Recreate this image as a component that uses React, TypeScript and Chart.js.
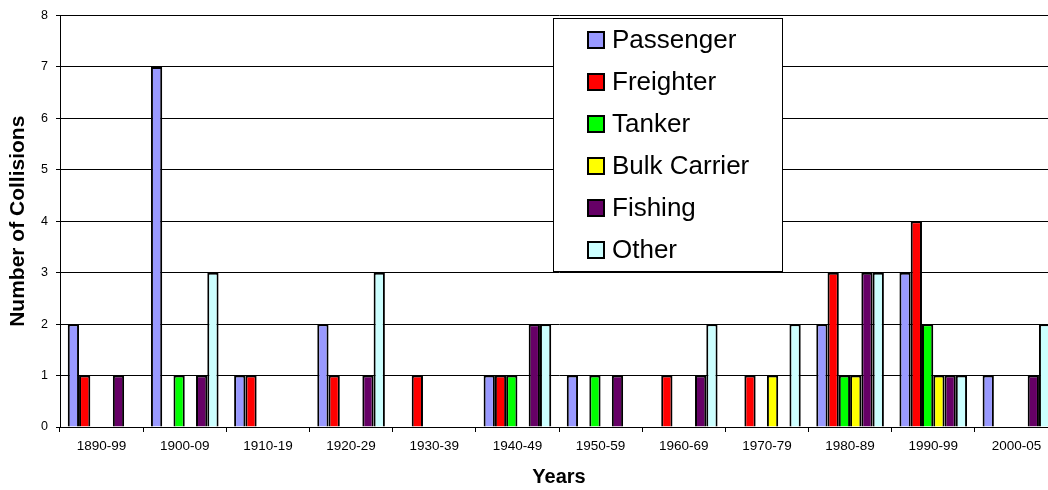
import React, { useEffect, useRef } from "react";
import { Chart, registerables } from "chart.js";

Chart.register(...registerables);

const categories = ["1890-99", "1900-09", "1910-19", "1920-29", "1930-39", "1940-49", "1950-59", "1960-69", "1970-79", "1980-89", "1990-99", "2000-05"];
const passenger = [2, 7, 1, 2, 0, 1, 1, 0, 0, 2, 3, 1];
const freighter = [1, 0, 1, 1, 1, 1, 0, 1, 1, 3, 4, 0];
const tanker = [0, 1, 0, 0, 0, 1, 1, 0, 0, 1, 2, 0];
const bulkCarrier = [0, 0, 0, 0, 0, 0, 0, 0, 1, 1, 1, 0];
const fishing = [1, 1, 0, 1, 0, 2, 1, 1, 0, 3, 1, 1];
const other = [0, 3, 0, 3, 0, 2, 0, 2, 2, 3, 1, 2];
const yTicks = [0, 1, 2, 3, 4, 5, 6, 7, 8];

const seriesNames = ["Passenger", "Freighter", "Tanker", "Bulk Carrier", "Fishing", "Other"];
const seriesValues = [passenger, freighter, tanker, bulkCarrier, fishing, other];
const seriesColors = ["#9999FF", "#FF0000", "#00FF00", "#FFFF00", "#660066", "#CCFFFF"];

const FONT = "'Liberation Sans', Arial, sans-serif";

const boxLegend = {
  id: "boxLegend",
  afterDraw(chart: any) {
    const ctx = chart.ctx;
    ctx.save();
    const bx = 553.5, by = 18.5, bw = 229, bh = 253;
    ctx.fillStyle = "#FFFFFF";
    ctx.fillRect(bx, by, bw, bh);
    ctx.strokeStyle = "#000000";
    ctx.lineWidth = 1;
    ctx.strokeRect(bx, by, bw, bh);
    ctx.font = `26px ${FONT}`;
    ctx.textBaseline = "middle";
    ctx.textAlign = "left";
    chart.data.datasets.forEach((ds: any, i: number) => {
      const cy = 40 + i * 42;
      ctx.fillStyle = ds.backgroundColor;
      ctx.fillRect(588, cy - 8, 16, 16);
      ctx.lineWidth = 2;
      ctx.strokeStyle = "#000";
      ctx.strokeRect(588, cy - 8, 16, 16);
      ctx.fillStyle = "#000";
      ctx.fillText(ds.label, 612, cy + 1);
    });
    ctx.restore();
  },
};

export default function App() {
  const ref = useRef<HTMLCanvasElement | null>(null);
  useEffect(() => {
    if (!ref.current) return;
    const chart = new Chart(ref.current, {
      type: "bar",
      data: {
        labels: categories,
        datasets: seriesNames.map((name, i) => ({
          label: name,
          data: seriesValues[i],
          backgroundColor: seriesColors[i],
          borderColor: "#000000",
          borderWidth: 2,
          borderSkipped: "bottom" as const,
          categoryPercentage: 0.813,
          barPercentage: 1,
        })),
      },
      options: {
        responsive: false,
        animation: false,
        layout: { padding: { top: 14, left: 0, right: 0, bottom: 0 } },
        plugins: {
          legend: { display: false },
          tooltip: { enabled: false },
        },
        scales: {
          x: {
            grid: {
              display: true,
              drawOnChartArea: false,
              drawTicks: true,
              tickLength: 5,
              color: "#000",
              offset: true,
            },
            border: { display: true, color: "#000", width: 1 },
            ticks: {
              color: "#000",
              font: { family: FONT, size: 13.5 },
              padding: 6,
              maxRotation: 0,
              autoSkip: false,
            },
            title: {
              display: true,
              text: "Years",
              color: "#000",
              font: { family: FONT, size: 20, weight: "bold" },
              padding: { top: 0, bottom: 0.5 },
            },
            afterFit(scale: any) {
              scale.height = 63;
            },
          },
          y: {
            min: 0,
            max: 8,
            afterBuildTicks(scale: any) {
              scale.ticks = yTicks.map((v) => ({ value: v }));
            },
            grid: {
              color: "#000",
              lineWidth: 1,
              tickLength: 4,
            },
            border: { display: true, color: "#000", width: 1 },
            ticks: {
              color: "#000",
              font: { family: FONT, size: 12.5 },
              padding: 8,
            },
            title: {
              display: true,
              text: "Number of Collisions",
              color: "#000",
              font: { family: FONT, size: 21, weight: "bold" },
              padding: { top: 6, bottom: 0 },
            },
            afterFit(scale: any) {
              scale.width = 60;
            },
          },
        },
      },
      plugins: [boxLegend],
    });
    return () => chart.destroy();
  }, []);

  return (
    <div style={{ position: "fixed", left: 0, top: 0, width: 1048, height: 490, overflow: "hidden", background: "#fff" }}>
      <canvas ref={ref} width={1058} height={490} style={{ display: "block", width: 1058, height: 490 }} />
    </div>
  );
}
